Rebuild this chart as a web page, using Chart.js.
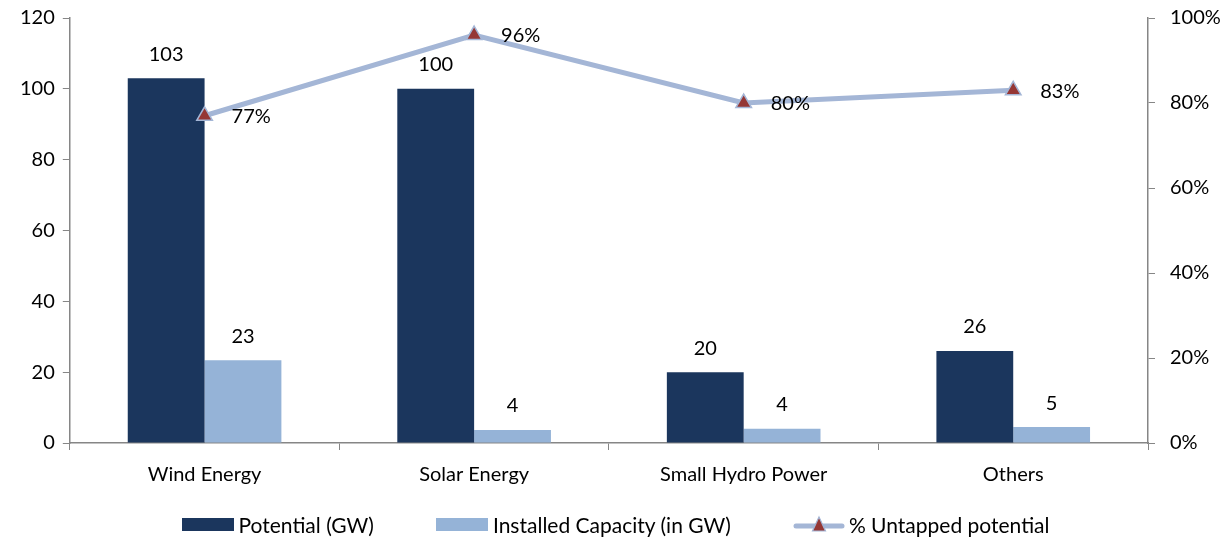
<!DOCTYPE html>
<html>
<head>
<meta charset="utf-8">
<script src="https://cdn.jsdelivr.net/npm/chart.js@4/dist/chart.umd.min.js"></script>
<style>
  body { margin: 0; background: #fff; }
  #wrap { position: relative; width: 1231px; height: 542px; }
  #legend {
    position: absolute; left: 0; right: 0; top: 512px; height: 24px;
    display: flex; justify-content: center; align-items: center;
    font: 21px Lato, "Liberation Sans", sans-serif; color: #000;
  }
  .item { display: flex; align-items: center; margin: 0 31px; }
  .box { width: 52px; height: 13px; margin-right: 5px; }
  .item canvas { margin-right: 4px; }
</style>
</head>
<body>
<div id="wrap">
  <canvas id="chart"></canvas>
  <div id="legend"></div>
</div>
<script>
// data
const categories = ['Wind Energy', 'Solar Energy', 'Small Hydro Power', 'Others'];
const potential = [103, 100, 20, 26];
const installed = [23.4, 3.7, 4, 4.5];
const installedLabels = ['23', '4', '4', '5'];
const untapped = [77, 96, 80, 83];

const FONT = 'Lato, "Liberation Sans", sans-serif';
const AXIS = '#868686';
const DARK = '#1b365d';
const LIGHT = '#95b3d7';
const LINE = '#a4b6d6';
const MARK = '#953735';

// value labels
const valueLabels = {
  id: 'valueLabels',
  afterDatasetsDraw(chart) {
    const ctx = chart.ctx;
    ctx.save();
    ctx.font = '20px ' + FONT;
    ctx.fillStyle = '#000';
    ctx.textBaseline = 'middle';
    chart.data.datasets.forEach((ds, i) => {
      const meta = chart.getDatasetMeta(i);
      meta.data.forEach((el, j) => {
        if (ds.type === 'line') {
          ctx.textAlign = 'left';
          ctx.fillText(ds.data[j] + '%', el.x + 27, el.y + 1);
        } else {
          ctx.textAlign = 'center';
          const txt = ds.labels ? ds.labels[j] : String(ds.data[j]);
          ctx.fillText(txt, el.x, el.y - 24);
        }
      });
    });
    ctx.restore();
  }
};

// keep the tick padding from pushing the plot down
function trimPadding(scale) {
  scale.paddingTop = 8;
  scale.paddingBottom = 8;
}

const chart = new Chart(document.getElementById('chart'), {
  data: {
    labels: categories,
    datasets: [
      {
        type: 'line',
        label: '% Untapped potential',
        data: untapped,
        yAxisID: 'y1',
        borderColor: LINE,
        borderWidth: 5,
        pointStyle: 'triangle',
        pointRadius: 9,
        pointHoverRadius: 9,
        pointBackgroundColor: MARK,
        pointBorderColor: LINE,
        pointBorderWidth: 1.5,
        tension: 0,
        order: 0,
      },
      {
        type: 'bar',
        label: 'Potential (GW)',
        data: potential,
        backgroundColor: DARK,
        yAxisID: 'y',
        order: 1,
      },
      {
        type: 'bar',
        label: 'Installed Capacity (in GW)',
        data: installed,
        labels: installedLabels,
        backgroundColor: LIGHT,
        yAxisID: 'y',
        order: 1,
      },
    ],
  },
  options: {
    responsive: true,
    maintainAspectRatio: false,
    animation: false,
    layout: { padding: { left: 12, right: 0, top: 18, bottom: 42 } },
    datasets: {
      bar: { categoryPercentage: 0.57, barPercentage: 1 },
    },
    plugins: {
      tooltip: { enabled: false },
      legend: { display: false },
    },
    scales: {
      x: {
        grid: { offset: true, drawOnChartArea: false, color: AXIS, tickLength: 7 },
        border: { color: AXIS, width: 1.5 },
        ticks: { font: { family: FONT, size: 20 }, color: '#000', padding: 13 },
      },
      y: {
        min: 0, max: 120,
        afterFit: trimPadding,
        ticks: { stepSize: 20, font: { family: FONT, size: 20 }, color: '#000', padding: 8 },
        grid: { drawOnChartArea: false, color: AXIS, tickLength: 7 },
        border: { color: AXIS, width: 1.5 },
      },
      y1: {
        position: 'right',
        min: 0, max: 100,
        afterFit(scale) { scale.width = 83; trimPadding(scale); },
        ticks: { stepSize: 20, font: { family: FONT, size: 20 }, color: '#000', padding: 15, callback: v => v + '%' },
        grid: { drawOnChartArea: false, color: AXIS, tickLength: 7 },
        border: { color: AXIS, width: 1.5 },
      },
    },
  },
  plugins: [valueLabels],
});

// legend in the page, built from the datasets
function lineIcon() {
  const cv = document.createElement('canvas');
  cv.width = 52; cv.height = 20;
  const c = cv.getContext('2d');
  c.strokeStyle = LINE;
  c.lineWidth = 5;
  c.lineCap = 'round';
  c.beginPath(); c.moveTo(3, 12); c.lineTo(49, 12); c.stroke();
  c.fillStyle = MARK;
  c.lineWidth = 1.2;
  c.beginPath(); c.moveTo(26, 3); c.lineTo(32.5, 17); c.lineTo(19.5, 17); c.closePath();
  c.fill(); c.stroke();
  return cv;
}
const legend = document.getElementById('legend');
[1, 2, 0].forEach(i => {
  const ds = chart.data.datasets[i];
  const item = document.createElement('div');
  item.className = 'item';
  if (ds.type === 'line') {
    item.appendChild(lineIcon());
  } else {
    const b = document.createElement('div');
    b.className = 'box';
    b.style.background = ds.backgroundColor;
    item.appendChild(b);
  }
  const t = document.createElement('span');
  t.textContent = ds.label;
  item.appendChild(t);
  legend.appendChild(item);
});
</script>
</body>
</html>
